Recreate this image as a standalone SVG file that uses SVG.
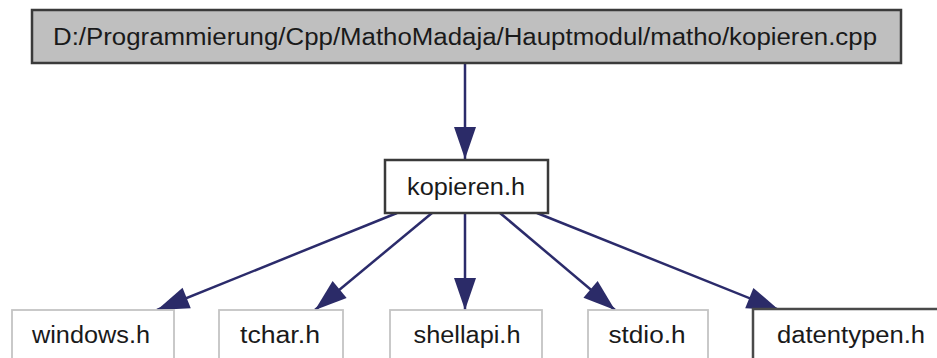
<svg xmlns="http://www.w3.org/2000/svg" width="937" height="358" viewBox="0 0 937 358">
<style>
  text { font-family: "Liberation Sans", Arial, sans-serif; font-size: 23px; fill: #1a1a1a; text-anchor: middle; }
  .root { fill: #bfbfbf; stroke: #3a3a3a; stroke-width: 2.5; }
  .main { fill: #ffffff; stroke: #3a3a3a; stroke-width: 2.5; }
  .ext { fill: #ffffff; stroke: #c4c4c4; stroke-width: 1.8; }
  .doc { fill: #ffffff; stroke: #4a4a4a; stroke-width: 2.5; }
  .edge { stroke: #2b2b6b; stroke-width: 2.5; fill: none; marker-end: url(#ah); }
</style>
<defs>
  <marker id="ah" markerUnits="userSpaceOnUse" markerWidth="34" markerHeight="24" refX="32" refY="11" orient="auto" overflow="visible">
    <path d="M0,0 L32,11 L0,22 Z" fill="#2b2b68"/>
  </marker>
</defs>
<rect width="937" height="358" fill="#ffffff"/>
<g id="edges">
  <line class="edge" x1="465" y1="63" x2="465" y2="159"/>
  <line class="edge" x1="397" y1="213" x2="157" y2="310"/>
  <line class="edge" x1="432" y1="213" x2="315" y2="310"/>
  <line class="edge" x1="465" y1="213" x2="465" y2="310"/>
  <line class="edge" x1="500" y1="213" x2="615" y2="310"/>
  <line class="edge" x1="537" y1="213" x2="779" y2="310"/>
</g>
<g id="node-root">
  <rect class="root" x="32" y="10" width="869" height="53"/>
  <text x="465" y="45" textLength="824" lengthAdjust="spacingAndGlyphs">D:/Programmierung/Cpp/MathoMadaja/Hauptmodul/matho/kopieren.cpp</text>
</g>
<g id="node-kopieren">
  <rect class="main" x="385" y="160" width="163" height="53"/>
  <text x="466" y="195" textLength="118" lengthAdjust="spacingAndGlyphs">kopieren.h</text>
</g>
<g id="node-windows">
  <rect class="ext" x="12" y="310" width="162" height="60"/>
  <text x="91" y="343" textLength="118" lengthAdjust="spacingAndGlyphs">windows.h</text>
</g>
<g id="node-tchar">
  <rect class="ext" x="219" y="310" width="124" height="60"/>
  <text x="280" y="343" textLength="80" lengthAdjust="spacingAndGlyphs">tchar.h</text>
</g>
<g id="node-shellapi">
  <rect class="ext" x="390" y="310" width="152" height="60"/>
  <text x="467" y="343" textLength="107" lengthAdjust="spacingAndGlyphs">shellapi.h</text>
</g>
<g id="node-stdio">
  <rect class="ext" x="588" y="310" width="120" height="60"/>
  <text x="647" y="343" textLength="77" lengthAdjust="spacingAndGlyphs">stdio.h</text>
</g>
<g id="node-datentypen">
  <rect class="doc" x="753" y="309" width="200" height="60"/>
  <text x="851" y="343" textLength="148" lengthAdjust="spacingAndGlyphs">datentypen.h</text>
</g>
</svg>
